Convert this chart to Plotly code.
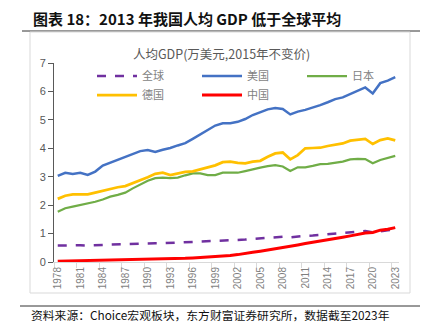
import plotly.graph_objects as go

years = list(range(1978, 2024))

world = [0.58, 0.59, 0.59, 0.59, 0.58, 0.58, 0.60, 0.61, 0.62, 0.63,
         0.65, 0.66, 0.67, 0.66, 0.66, 0.67, 0.68, 0.69, 0.70, 0.72,
         0.72, 0.74, 0.76, 0.76, 0.77, 0.79, 0.81, 0.83, 0.86, 0.88,
         0.89, 0.87, 0.90, 0.92, 0.93, 0.95, 0.97, 0.99, 1.01, 1.03,
         1.06, 1.09, 1.04, 1.09, 1.12, 1.15]
usa = [3.03, 3.14, 3.10, 3.14, 3.06, 3.18, 3.39, 3.49, 3.59, 3.68,
       3.80, 3.90, 3.94, 3.87, 3.95, 4.01, 4.10, 4.18, 4.33, 4.48,
       4.64, 4.80, 4.88, 4.88, 4.93, 5.03, 5.17, 5.28, 5.37, 5.42,
       5.38, 5.19, 5.29, 5.35, 5.43, 5.52, 5.62, 5.73, 5.79, 5.91,
       6.03, 6.14, 5.93, 6.29, 6.38, 6.50]
japan = [1.77, 1.89, 1.95, 2.00, 2.06, 2.12, 2.20, 2.30, 2.36, 2.44,
         2.59, 2.73, 2.86, 2.95, 2.97, 2.95, 2.97, 3.05, 3.12, 3.12,
         3.06, 3.06, 3.14, 3.14, 3.14, 3.20, 3.27, 3.32, 3.37, 3.41,
         3.36, 3.20, 3.33, 3.33, 3.38, 3.44, 3.45, 3.49, 3.53, 3.61,
         3.63, 3.62, 3.47, 3.59, 3.65, 3.73]
germany = [2.22, 2.33, 2.38, 2.39, 2.38, 2.44, 2.51, 2.58, 2.63, 2.67,
           2.77, 2.86, 2.98, 3.10, 3.14, 3.06, 3.12, 3.17, 3.19, 3.26,
           3.33, 3.40, 3.51, 3.53, 3.49, 3.47, 3.53, 3.56, 3.70, 3.82,
           3.85, 3.61, 3.76, 4.00, 4.01, 4.02, 4.08, 4.12, 4.17, 4.27,
           4.29, 4.33, 4.15, 4.29, 4.35, 4.28]
china = [0.03, 0.035, 0.04, 0.04, 0.045, 0.05, 0.055, 0.06, 0.065, 0.07,
         0.075, 0.08, 0.085, 0.09, 0.10, 0.11, 0.12, 0.13, 0.145, 0.16,
         0.17, 0.19, 0.21, 0.23, 0.26, 0.29, 0.34, 0.38, 0.42, 0.47,
         0.51, 0.55, 0.60, 0.65, 0.69, 0.74, 0.78, 0.83, 0.87, 0.92,
         0.97, 1.02, 1.04, 1.12, 1.15, 1.21]

tick_years = list(range(1978, 2024, 3))
tick_text = [str(y) for y in tick_years]

series = [
    ("全球", world, "#7030A0", 2.5, "dash"),
    ("美国", usa, "#4472C4", 2.5, "solid"),
    ("日本", japan, "#70AD47", 2.25, "solid"),
    ("德国", germany, "#FFC000", 2.75, "solid"),
    ("中国", china, "#FF0000", 3, "solid"),
]

W, H = 427, 333
L, R, T, B = 54, 28, 63, 71
PW, PH = W - L - R, H - T - B


def px(xp):
    return (xp - L) / PW


def py(yp):
    return 1 - (yp - T) / PH


fig = go.Figure()
for name, vals, color, width, dash in series:
    fig.add_trace(go.Scatter(x=years, y=vals, name=name, mode="lines",
                             line=dict(color=color, width=width, dash=dash)))

FONT = "Noto Sans CJK SC"
shapes = [
    dict(type="line", xref="paper", yref="paper", x0=px(22), x1=px(420), y0=py(31), y1=py(31),
         line=dict(color="#333333", width=1), layer="below"),
    dict(type="rect", xref="paper", yref="paper", x0=px(30), x1=px(410), y0=py(293), y1=py(32),
         line=dict(color="#D9D9D9", width=1), fillcolor="white", layer="below"),
    dict(type="line", xref="paper", yref="paper", x0=px(20), x1=px(420), y0=py(306), y1=py(306),
         line=dict(color="#333333", width=1), layer="below"),
]

annotations = [
    dict(text="<b>图表 18：2013 年我国人均 GDP 低于全球平均</b>", xref="paper", yref="paper",
         x=px(31), y=py(18), xanchor="left", yanchor="middle", showarrow=False,
         font=dict(family=FONT, size=15, color="#111111")),
    dict(text="人均GDP(万美元,2015年不变价)", xref="paper", yref="paper",
         x=px(221), y=py(53), xanchor="center", yanchor="middle", showarrow=False,
         font=dict(family=FONT, size=12.5, color="#595959")),
    dict(text="资料来源：Choice宏观板块，东方财富证券研究所，数据截至2023年", xref="paper", yref="paper",
         x=px(29), y=py(314), xanchor="left", yanchor="middle", showarrow=False,
         font=dict(family=FONT, size=11.8, color="#111111")),
]

fig.update_layout(
    width=W, height=H,
    margin=dict(l=L, r=R, t=T, b=B),
    paper_bgcolor="white",
    plot_bgcolor="rgba(0,0,0,0)",
    shapes=shapes,
    annotations=annotations,
    showlegend=True,
    legend=dict(orientation="h", x=px(92), y=py(61.5), xanchor="left", yanchor="top",
                entrywidth=50, entrywidthmode="pixels", itemwidth=40,
                font=dict(family=FONT, size=11, color="#7F7F7F"),
                bgcolor="rgba(0,0,0,0)", tracegroupgap=0),
    xaxis=dict(range=[1977.5, 2023.5], tickmode="array", tickvals=tick_years, ticktext=tick_text,
               tickangle=-90, ticks="", showgrid=False, zeroline=False,
               showline=True, linecolor="#D9D9D9", linewidth=1,
               tickfont=dict(family="Liberation Sans", size=10, color="#7F7F7F"),
               minor=dict(ticks="outside", tick0=1977.5, dtick=3, ticklen=5,
                          tickcolor="#D9D9D9", showgrid=False)),
    yaxis=dict(range=[0, 7], dtick=1, ticks="outside", ticklen=5, tickcolor="#595959",
               showgrid=False, zeroline=False, showline=True, linecolor="#595959", linewidth=1,
               tickfont=dict(family="Liberation Sans", size=11, color="#595959")),
)

fig.write_html("out.html")
